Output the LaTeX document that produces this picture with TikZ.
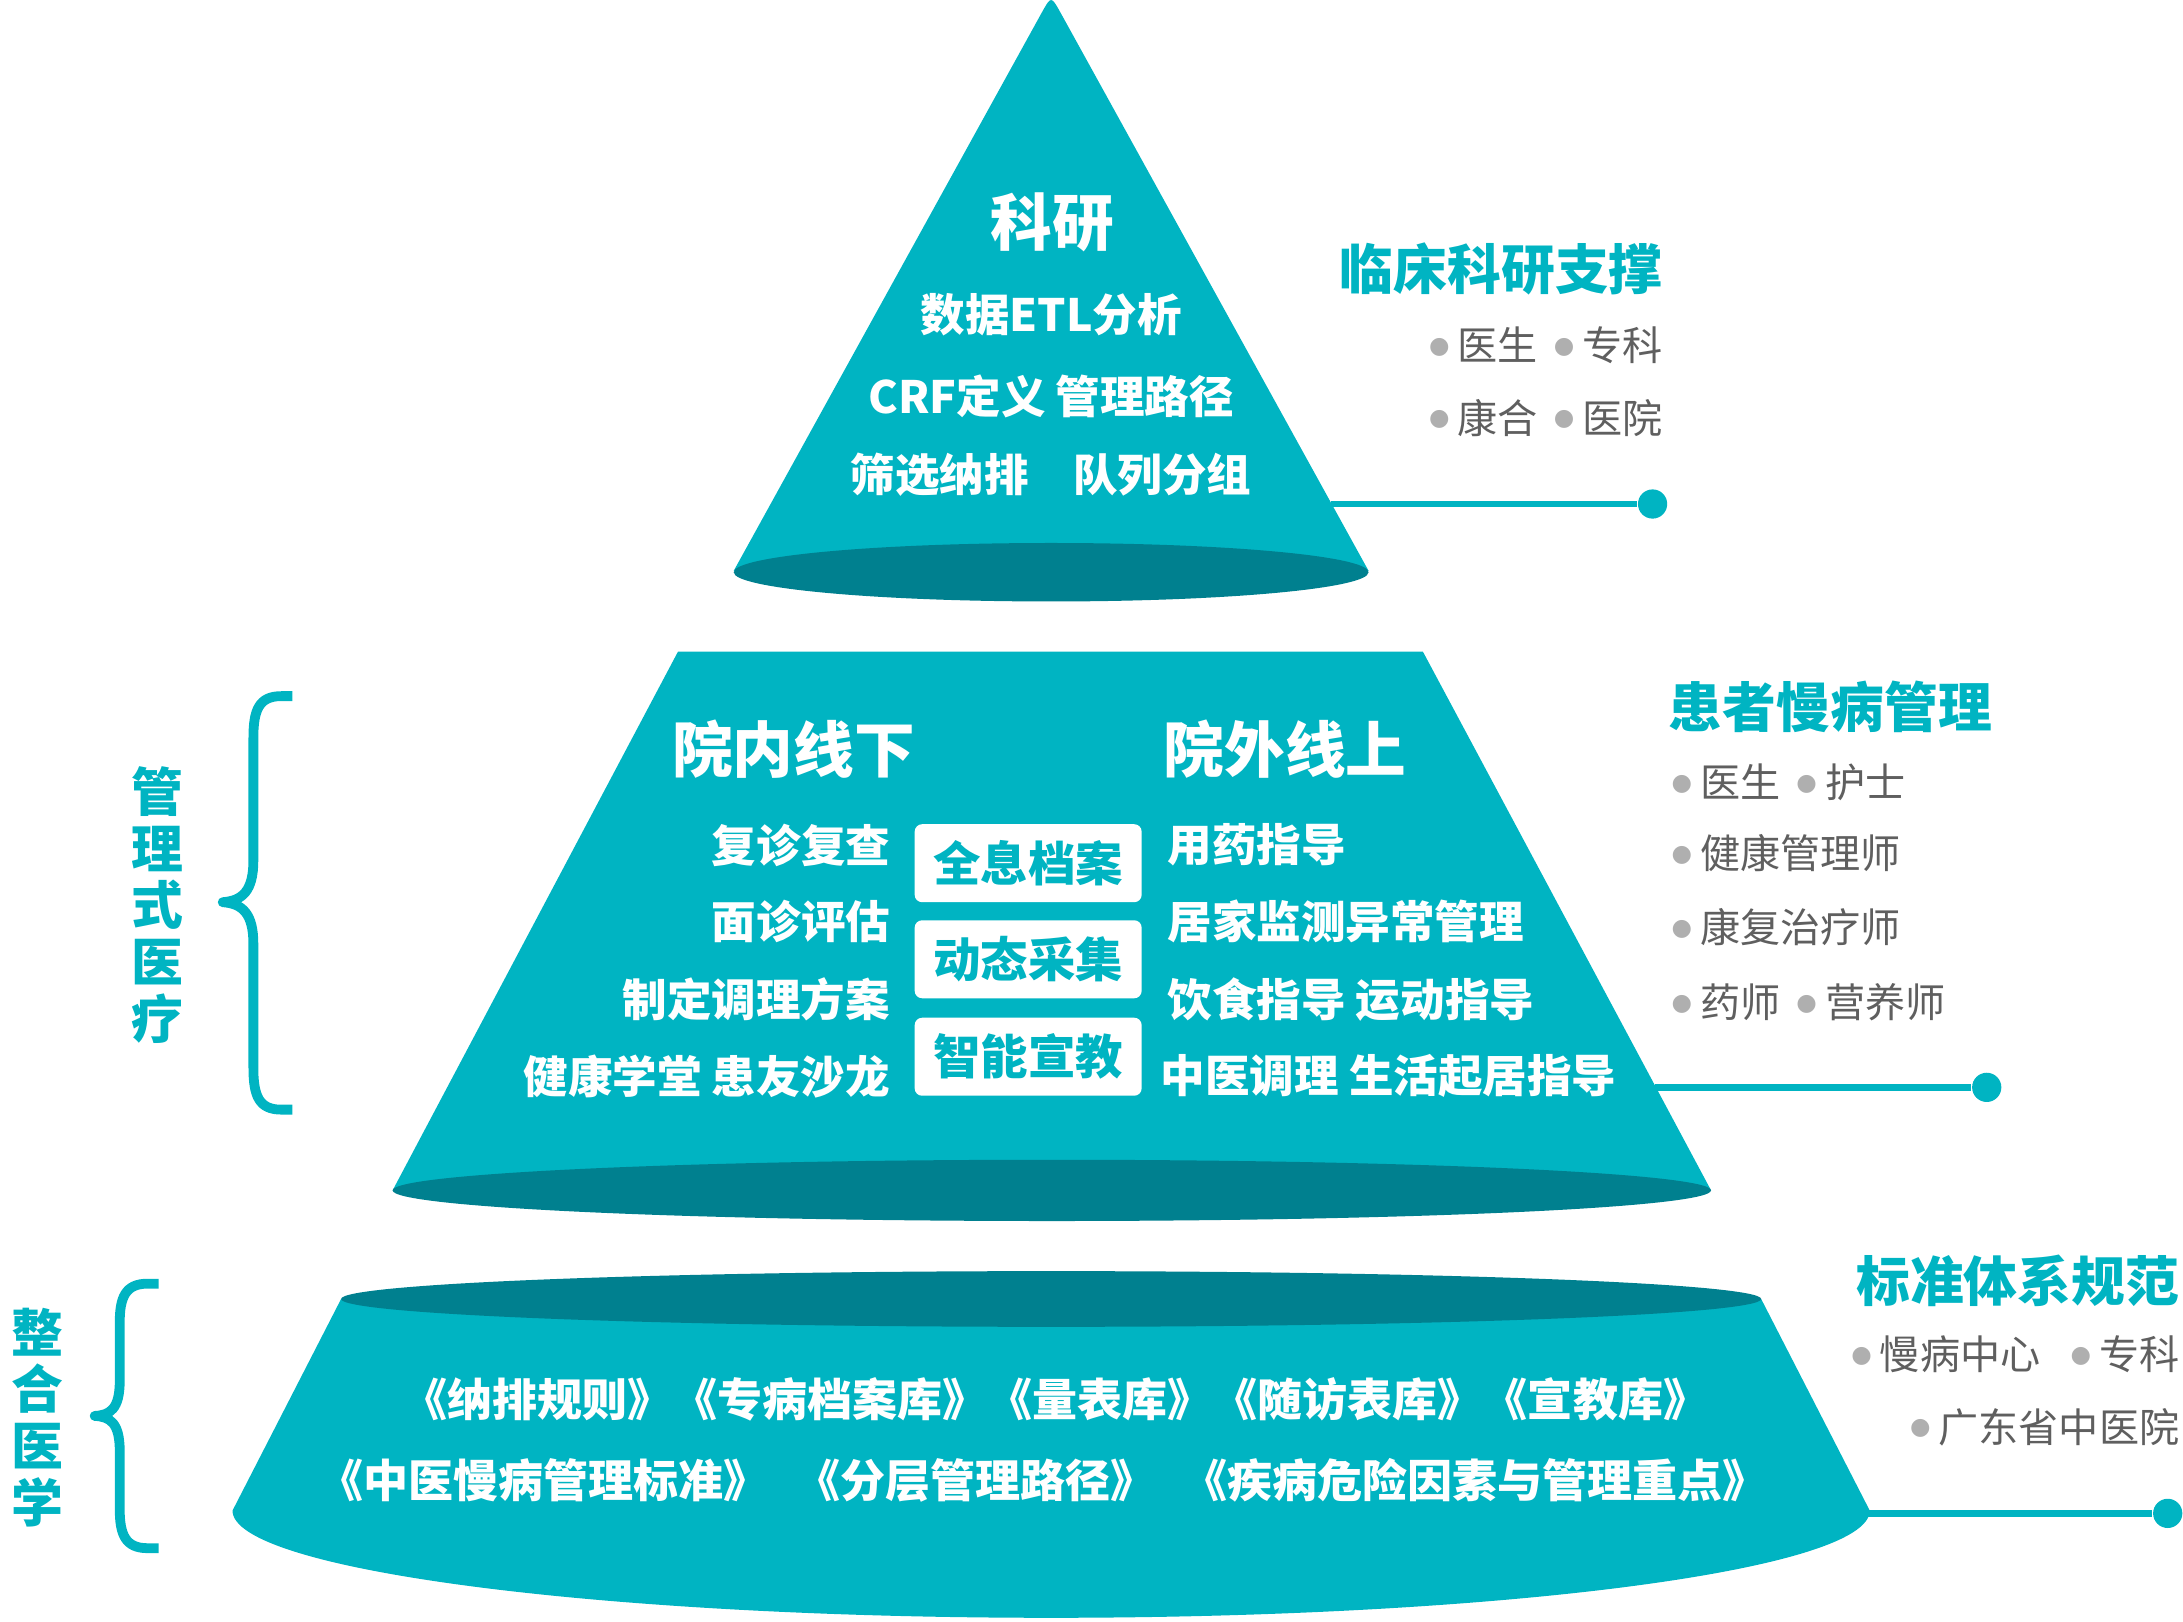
\documentclass[tikz,border=0pt]{standalone}
\usepackage{fontspec}
\newfontfamily\cjk{Noto Sans CJK SC}
\newfontfamily\dejavu{DejaVu Sans}
\definecolor{teal0}{RGB}{0,180,194}
\definecolor{tealdark}{RGB}{0,128,143}
\definecolor{txtgray}{RGB}{95,95,95}
\definecolor{dotgray}{RGB}{175,175,175}
\newcommand{\bul}{{\color{dotgray}\raisebox{1.5pt}{\dejavu\fontsize{4.8}{5}\selectfont ●}}\hspace{0.2em}}

\begin{document}
\begin{tikzpicture}[
    whitebig/.style={text=white,inner sep=0pt,font=\cjk\bfseries\fontsize{12.4}{14}\selectfont},
    whiteitem/.style={text=white,inner sep=0pt,font=\cjk\bfseries\fontsize{9.1}{11}\selectfont},
    head/.style={text=teal0,inner sep=0pt,font=\cjk\bfseries\fontsize{11}{13}\selectfont},
    member/.style={text=txtgray,inner sep=0pt,font=\cjk\fontsize{8.2}{10}\selectfont},
    sidelabel/.style={text=teal0,inner sep=0pt,align=center,font=\cjk\bfseries\fontsize{10.6}{11.6}\selectfont},
    tag/.style={fill=white,rounded corners=1.5pt,minimum width=1.63cm,minimum height=0.56cm,
      inner sep=0pt,text=teal0,font=\cjk\bfseries\fontsize{9.7}{11}\selectfont},
    dot/.style={circle,fill=teal0,inner sep=0pt,minimum size=0.21cm},
    link/.style={teal0,line width=1.3pt},
    brace/.style={teal0,line width=2pt,line join=round,line cap=butt}]
  \useasboundingbox (0,0) rectangle (15.68,-11.65);

  % cone and layers
  \fill[teal0] (5.27,-4.10) -- (7.483,-0.09) .. controls (7.55,0.03) .. (7.617,-0.09) -- (9.83,-4.10) -- cycle;
  \fill[tealdark] (7.55,-4.11) ellipse [x radius=2.28, y radius=0.21];

  \fill[teal0] (2.82,-8.55) -- (4.87,-4.68) -- (10.22,-4.68) -- (12.29,-8.55) -- cycle;
  \fill[tealdark] (7.555,-8.55) ellipse [x radius=4.735, y radius=0.22];

  \fill[teal0] (2.45,-9.33) -- (1.67,-10.85) arc [start angle=180, end angle=360, x radius=5.88, y radius=0.77] -- (12.65,-9.33) -- cycle;
  \fill[tealdark] (7.55,-9.33) ellipse [x radius=5.10, y radius=0.20];

  % top texts
  \node[whitebig,font=\cjk\bfseries\fontsize{12.6}{14}\selectfont] (keyan) at (7.56,-1.60) {科研};
  \node[whiteitem] (etl) at (7.55,-2.26) {数据ETL分析};
  \node[whiteitem] (crf) at (7.55,-2.85) {CRF定义 管理路径};
  \node[whiteitem] (shaixuan) at (7.55,-3.41) {筛选纳排\hspace{1em}队列分组};

  % middle texts
  \node[whitebig] (yuannei) at (5.70,-5.38) {院内线下};
  \node[whitebig] (yuanwai) at (9.23,-5.38) {院外线上};

  \node[whiteitem,anchor=east] (l1) at (6.40,-6.07) {复诊复查};
  \node[whiteitem,anchor=east] (l2) at (6.40,-6.62) {面诊评估};
  \node[whiteitem,anchor=east] (l3) at (6.40,-7.18) {制定调理方案};
  \node[whiteitem,anchor=east] (l4) at (6.40,-7.73) {健康学堂 患友沙龙};

  \node[tag] (box1) at (7.385,-6.20) {全息档案};
  \node[tag] (box2) at (7.385,-6.89) {动态采集};
  \node[tag] (box3) at (7.385,-7.59) {智能宣教};

  \node[whiteitem,anchor=west] (r1) at (8.38,-6.07) {用药指导};
  \node[whiteitem,anchor=west] (r2) at (8.38,-6.62) {居家监测异常管理};
  \node[whiteitem,anchor=west] (r3) at (8.38,-7.18) {饮食指导 运动指导};
  \node[whiteitem,anchor=west] (r4) at (8.33,-7.73) {中医调理 生活起居指导};

  % bottom texts
  \node[whiteitem,font=\cjk\bfseries\fontsize{9.2}{11}\selectfont] (std1) at (7.58,-10.05)
    {《纳排规则》《专病档案库》《量表库》《随访表库》《宣教库》};
  \node[whiteitem,font=\cjk\bfseries\fontsize{9.2}{11}\selectfont] (std2) at (7.49,-10.63)
    {《中医慢病管理标准》\hspace{0.6em}《分层管理路径》\hspace{0.6em}《疾病危险因素与管理重点》};

  % right side blocks
  \node[head,anchor=east] (linchuang) at (11.95,-1.93) {临床科研支撑};
  \node[member,anchor=east] (lc1) at (11.95,-2.48) {\bul 医生\hspace{0.4em}\bul 专科};
  \node[member,anchor=east] (lc2) at (11.95,-3.00) {\bul 康合\hspace{0.4em}\bul 医院};

  \node[head,anchor=west] (huanzhe) at (11.98,-5.08) {患者慢病管理};
  \node[member,anchor=west] (hz1) at (12.00,-5.62) {\bul 医生\hspace{0.4em}\bul 护士};
  \node[member,anchor=west] (hz2) at (12.00,-6.13) {\bul 健康管理师};
  \node[member,anchor=west] (hz3) at (12.00,-6.66) {\bul 康复治疗师};
  \node[member,anchor=west] (hz4) at (12.00,-7.20) {\bul 药师\hspace{0.4em}\bul 营养师};

  \node[head,anchor=east] (biaozhun) at (15.66,-9.20) {标准体系规范};
  \node[member,anchor=east] (bz1) at (15.66,-9.73) {\bul 慢病中心\hspace{0.75em}\bul 专科};
  \node[member,anchor=east] (bz2) at (15.66,-10.25) {\bul 广东省中医院};

  % connectors
  \coordinate (e1) at (9.56,-3.62);
  \node[dot] (d1) at (11.87,-3.62) {};
  \draw[link] (e1) -- (d1);
  \coordinate (e2) at (11.89,-7.81);
  \node[dot] (d2) at (14.27,-7.81) {};
  \draw[link] (e2) -- (d2);
  \coordinate (e3) at (13.40,-10.87);
  \node[dot] (d3) at (15.57,-10.87) {};
  \draw[link] (e3) -- (d3);

  % braces and side labels
  \draw[brace] (2.10,-5.00) -- (2.02,-5.00) .. controls (1.86,-5.00) and (1.82,-5.10) .. (1.82,-5.30)
    -- (1.82,-6.18) .. controls (1.82,-6.40) and (1.74,-6.47) .. (1.60,-6.48)
    .. controls (1.74,-6.49) and (1.82,-6.56) .. (1.82,-6.78)
    -- (1.82,-7.67) .. controls (1.82,-7.87) and (1.86,-7.97) .. (2.02,-7.97) -- (2.10,-7.97);
  \draw[brace] (1.14,-9.22) -- (1.06,-9.22) .. controls (0.90,-9.22) and (0.86,-9.32) .. (0.86,-9.50)
    -- (0.86,-9.92) .. controls (0.86,-10.12) and (0.79,-10.165) .. (0.68,-10.17)
    .. controls (0.79,-10.175) and (0.86,-10.22) .. (0.86,-10.42)
    -- (0.86,-10.84) .. controls (0.86,-11.02) and (0.90,-11.12) .. (1.06,-11.12) -- (1.14,-11.12);

  \node[sidelabel] (guanli) at (1.13,-6.50) {管\\理\\式\\医\\疗};
  \node[sidelabel] (zhenghe) at (0.27,-10.18) {整\\合\\医\\学};
\end{tikzpicture}
\end{document}
